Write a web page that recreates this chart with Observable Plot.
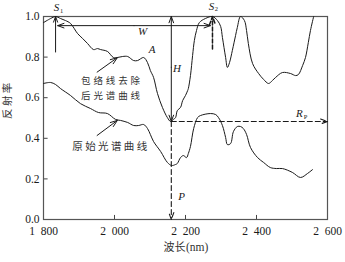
<!DOCTYPE html>
<html>
<head>
<meta charset="utf-8">
<script src="https://cdn.jsdelivr.net/npm/d3@7"></script>
<script src="https://cdn.jsdelivr.net/npm/@observablehq/plot@0.6"></script>
<style>
  html, body { margin: 0; padding: 0; background: #fff; }
</style>
</head>
<body>
<div id="chart"></div>
<script>
// ---- data ----
const xTicks = [1800, 2000, 2200, 2400, 2600];
const xTickLabels = ["1\u2002800", "2\u2002000", "2\u2002200", "2\u2002400", "2\u2002600"];
const yTicks = [0, 0.2, 0.4, 0.6, 0.8, 1.0];
const yTickLabels = ["0.0", "0.2", "0.4", "0.6", "0.8", "1.0"];

// continuum-removed spectrum (包络线去除后光谱曲线)
const crWave = [1800,1820,1834,1848,1862,1876,1896,1910,1924,1941,1952,1961,1980,1997,2008,2023,2037,2054,2065,2082,2093,2101,2110,2121,2135,2149,2158,2166,2172,2177,2186,2192,2200,2206,2208,2214,2220,2225,2231,2239,2256,2276,2290,2299,2304,2313,2318,2324,2332,2341,2346,2355,2366,2372,2377,2389,2406,2420,2434,2445,2454,2473,2496,2510,2518,2530,2538,2546,2552,2561];
const crRefl = [0.970,0.990,1.000,0.990,0.980,0.966,0.916,0.892,0.867,0.837,0.842,0.837,0.828,0.798,0.798,0.803,0.803,0.783,0.783,0.798,0.773,0.734,0.700,0.621,0.552,0.502,0.483,0.493,0.502,0.537,0.552,0.586,0.611,0.635,0.645,0.709,0.808,0.882,0.931,0.970,0.990,1.000,0.980,0.951,0.897,0.798,0.749,0.773,0.833,0.906,0.946,1.000,0.980,0.931,0.867,0.768,0.719,0.690,0.670,0.685,0.700,0.724,0.719,0.709,0.714,0.759,0.798,0.872,0.931,1.000];

// original spectrum (原始光谱曲线)
const origWave = [1800,1820,1834,1848,1876,1904,1932,1955,1980,2003,2017,2037,2054,2068,2082,2093,2101,2110,2130,2149,2161,2172,2177,2186,2194,2203,2208,2214,2223,2234,2242,2270,2285,2293,2304,2313,2318,2327,2335,2346,2355,2363,2372,2383,2403,2420,2439,2456,2473,2501,2524,2544,2558];
const origRefl = [0.670,0.675,0.665,0.645,0.611,0.571,0.547,0.527,0.522,0.493,0.488,0.478,0.463,0.463,0.468,0.448,0.419,0.384,0.335,0.281,0.266,0.271,0.276,0.305,0.315,0.305,0.325,0.360,0.448,0.502,0.512,0.522,0.517,0.502,0.463,0.404,0.369,0.374,0.433,0.458,0.458,0.448,0.419,0.355,0.305,0.281,0.256,0.251,0.251,0.232,0.207,0.227,0.246];

// feature annotation values
const s1 = 1834, s2 = 2276;          // shoulders
const pWave = 2160;                  // absorption position P
const rp = 0.483;                    // reflectance at P
const wLevel = 0.955;

const cr = crWave.map((x, i) => ({x, y: crRefl[i]}));
const orig = origWave.map((x, i) => ({x, y: origRefl[i]}));

const ink = "#1a1a1a";
const serif = "Liberation Serif, Times New Roman, serif";
const cjk = "Noto Sans CJK SC, sans-serif";
const one = [0];

const chart = Plot.plot({
  width: 345,
  height: 262,
  marginLeft: 43,
  marginRight: 18,
  marginTop: 16,
  marginBottom: 43,
  x: {domain: [1800, 2600]},
  y: {domain: [0, 1]},
  style: {fontFamily: serif, fontSize: "11px", color: ink, background: "#fff", overflow: "visible"},
  marks: [
    Plot.axisX(xTicks, {tickSize: 0, tickPadding: 7, label: null, fontSize: 11.5,
      tickFormat: d => xTickLabels[xTicks.indexOf(d)]}),
    Plot.axisY(yTicks, {tickSize: 0, tickPadding: 4, label: null, fontSize: 11.5,
      tickFormat: d => yTickLabels[yTicks.indexOf(d)]}),
    // inward ticks
    Plot.ruleX(xTicks.slice(1, -1), {y1: 0, y2: 0.02, stroke: "#444"}),
    Plot.ruleY(yTicks.slice(1, -1), {x1: 1800, x2: 1813, stroke: "#444"}),
    Plot.frame({stroke: "#555", strokeWidth: 1.2}),
    // curves
    Plot.line(cr, {x: "x", y: "y", curve: "catmull-rom", stroke: ink, strokeWidth: 1}),
    Plot.line(orig, {x: "x", y: "y", curve: "catmull-rom", stroke: ink, strokeWidth: 1}),
    // S1 arrow
    Plot.arrow(one, {x1: s1, y1: 0.825, x2: s1, y2: 1.0, stroke: ink, strokeWidth: 1, headAngle: 40, headLength: 9}),
    // S2 arrow (dashed)
    Plot.arrow(one, {x1: s2, y1: 0.84, x2: s2, y2: 1.0, stroke: ink, strokeWidth: 1.5, strokeDasharray: "4,2", headAngle: 40, headLength: 9}),
    // W double arrow
    Plot.arrow(one, {x1: (s1 + s2) / 2, y1: wLevel, x2: s1 + 6, y2: wLevel, stroke: ink, strokeWidth: 1, headAngle: 40, headLength: 10}),
    Plot.arrow(one, {x1: (s1 + s2) / 2, y1: wLevel, x2: s2 - 6, y2: wLevel, stroke: ink, strokeWidth: 1, headAngle: 40, headLength: 10}),
    // H double arrow
    Plot.arrow(one, {x1: pWave, y1: 0.75, x2: pWave, y2: 1.0, stroke: ink, strokeWidth: 1, headAngle: 40, headLength: 10}),
    Plot.arrow(one, {x1: pWave, y1: 0.75, x2: pWave, y2: rp, stroke: ink, strokeWidth: 1, headAngle: 40, headLength: 10}),
    // Rp dashed arrow
    Plot.arrow(one, {x1: pWave, y1: rp, x2: 2600, y2: rp, stroke: ink, strokeWidth: 1.1, strokeDasharray: "5,3", headAngle: 40, headLength: 10}),
    // P dashed arrow
    Plot.arrow(one, {x1: pWave, y1: rp, x2: pWave, y2: 0, stroke: ink, strokeWidth: 1.1, strokeDasharray: "5,3", headAngle: 40, headLength: 10}),
    // pointer arrows
    Plot.arrow(one, {x1: 1951, y1: 0.726, x2: 2008, y2: 0.797, stroke: ink, strokeWidth: 1, headAngle: 40, headLength: 11}),
    Plot.arrow(one, {x1: 1951, y1: 0.414, x2: 2008, y2: 0.488, stroke: ink, strokeWidth: 1, headAngle: 40, headLength: 11}),
    // italic labels
    Plot.text(one, {x: s1, y: 1.043, text: () => "S", fontStyle: "italic", fontSize: 11, dx: 1}),
    Plot.text(one, {x: s1, y: 1.043, text: () => "1", fontSize: 6.5, dx: 6, dy: 3}),
    Plot.text(one, {x: s2, y: 1.05, text: () => "S", fontStyle: "italic", fontSize: 11, dx: -1}),
    Plot.text(one, {x: s2, y: 1.05, text: () => "2", fontSize: 6.5, dx: 4, dy: 3}),
    Plot.text(one, {x: 2079, y: 0.924, text: () => "W", fontStyle: "italic", fontSize: 11}),
    Plot.text(one, {x: 2106, y: 0.837, text: () => "A", fontStyle: "italic", fontSize: 11}),
    Plot.text(one, {x: 2176, y: 0.744, text: () => "H", fontStyle: "italic", fontSize: 11}),
    Plot.text(one, {x: 2189, y: 0.113, text: () => "P", fontStyle: "italic", fontSize: 11}),
    Plot.text(one, {x: 2521, y: 0.52, text: () => "R", fontStyle: "italic", fontSize: 11}),
    Plot.text(one, {x: 2521, y: 0.52, text: () => "P", fontSize: 6.5, dx: 6, dy: 3}),
    // Chinese labels (two-line label as one text)
    Plot.text(one, {x: 1993, y: 0.653, text: () => "包络线去除\n后光谱曲线", fontFamily: cjk, fontSize: 9.5, fill: "#333", lineHeight: 1.5}),
    Plot.text(one, {x: 1990, y: 0.357, text: () => "原始光谱曲线", fontFamily: cjk, fontSize: 10.5, fill: "#333"}),
    // axis titles
    Plot.text(one, {frameAnchor: "left", text: () => "反射率", fontFamily: cjk, fontSize: 10.5, rotate: -90, dx: -36, dy: 1, fill: "#333"}),
    Plot.text(one, {x: 2200, frameAnchor: "bottom", text: () => "波长", fontFamily: cjk, fontSize: 11, textAnchor: "end", dx: 0, dy: 31, fill: "#333"}),
    Plot.text(one, {x: 2200, frameAnchor: "bottom", text: () => "(nm)", fontFamily: serif, fontSize: 11.5, textAnchor: "start", dx: 0.5, dy: 31, fill: "#333"})
  ]
});

// spread CJK letters a little, as in the reference
d3.select(chart).selectAll("text").filter(function() {
  return /[\u4e00-\u9fff]/.test(this.textContent) && this.textContent.length > 2;
}).each(function() {
  const multi = this.textContent.length > 6;
  d3.select(this).attr("letter-spacing", multi ? "2.9px" : "2.4px");
});

document.getElementById("chart").appendChild(chart);
</script>
</body>
</html>
